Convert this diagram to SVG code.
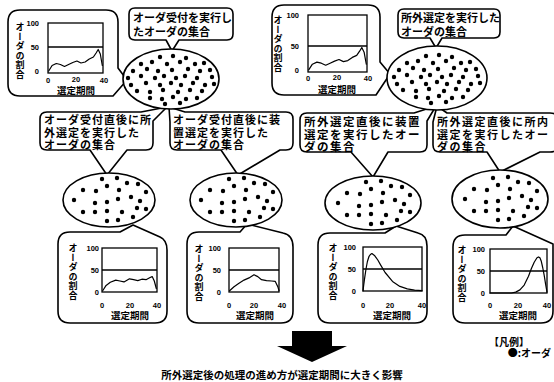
<svg xmlns="http://www.w3.org/2000/svg" xmlns:xlink="http://www.w3.org/1999/xlink" width="554" height="382" viewBox="0 0 554 382">
<style>
.bub{fill:#fff;stroke:#000;stroke-width:1.6;stroke-linejoin:round}
.ell{fill:#fff;stroke:#000;stroke-width:1.6}
.plot{fill:none;stroke:#000;stroke-width:1.3}
.curve{fill:none;stroke:#000;stroke-width:1.2;stroke-linejoin:round;stroke-linecap:round}
.t{font-family:"Noto Sans CJK JP","Noto Sans CJK SC",sans-serif;font-weight:700;fill:#000}
.num{font-family:"Liberation Sans",Arial,sans-serif;font-weight:700;font-size:7.5px;fill:#000}
.ne{text-anchor:end}
.nm{text-anchor:middle}
.yl{writing-mode:vertical-rl;font-size:9px;text-anchor:middle;letter-spacing:0.5px}
.xl{font-size:9.5px;text-anchor:middle}
.mb{font-size:11px;letter-spacing:1px}
.mb3{font-size:11.5px;letter-spacing:1.5px}
.mb4{font-size:11px;letter-spacing:1.5px}
</style>
<defs>
<g id="dotsA" fill="#000">
<circle cx="-11" cy="-22" r="2.2"/><circle cx="2" cy="-23" r="2.2"/><circle cx="15" cy="-21" r="2.2"/>
<circle cx="-30" cy="-15" r="2.2"/><circle cx="-19" cy="-17" r="2.2"/><circle cx="-4" cy="-15" r="2.2"/><circle cx="9" cy="-17" r="2.2"/><circle cx="24" cy="-15" r="2.2"/><circle cx="33" cy="-16" r="2.2"/>
<circle cx="-38" cy="-8" r="2.2"/><circle cx="-24" cy="-10" r="2.2"/><circle cx="-13" cy="-8" r="2.2"/><circle cx="1" cy="-9" r="2.2"/><circle cx="17" cy="-10" r="2.2"/><circle cx="29" cy="-8" r="2.2"/><circle cx="39" cy="-9" r="2.2"/>
<circle cx="-43" cy="-1" r="2.2"/><circle cx="-30" cy="-3" r="2.2"/><circle cx="-16" cy="-1" r="2.2"/><circle cx="-7" cy="-3" r="2.2"/><circle cx="5" cy="-1" r="2.2"/><circle cx="14" cy="-3" r="2.2"/><circle cx="26" cy="-1" r="2.2"/><circle cx="41" cy="-2" r="2.2"/>
<circle cx="-40" cy="6" r="2.2"/><circle cx="-25" cy="4" r="2.2"/><circle cx="-11" cy="6" r="2.2"/><circle cx="0" cy="4" r="2.2"/><circle cx="10" cy="6" r="2.2"/><circle cx="22" cy="4" r="2.2"/><circle cx="34" cy="6" r="2.2"/><circle cx="43" cy="5" r="2.2"/>
<circle cx="-34" cy="12" r="2.2"/><circle cx="-21" cy="13" r="2.2"/><circle cx="-8" cy="11" r="2.2"/><circle cx="7" cy="13" r="2.2"/><circle cx="19" cy="11" r="2.2"/><circle cx="31" cy="12" r="2.2"/>
<circle cx="-21" cy="19" r="2.2"/><circle cx="-9" cy="20" r="2.2"/><circle cx="2" cy="18" r="2.2"/><circle cx="15" cy="20" r="2.2"/><circle cx="26" cy="19" r="2.2"/>
<circle cx="-6" cy="25" r="2.2"/><circle cx="9" cy="24" r="2.2"/>
</g>
<g id="dotsB" fill="#000">
<circle cx="-7" cy="-21" r="2.2"/><circle cx="8" cy="-22" r="2.2"/><circle cx="18" cy="-17" r="2.2"/><circle cx="29" cy="-16" r="2.2"/>
<circle cx="-26" cy="-10" r="2.2"/><circle cx="-13" cy="-9" r="2.2"/><circle cx="-2" cy="-14" r="2.2"/><circle cx="10" cy="-10" r="2.2"/><circle cx="37" cy="-8" r="2.2"/>
<circle cx="-35" cy="0" r="2.2"/><circle cx="-14" cy="3" r="2.2"/><circle cx="-2" cy="2" r="2.2"/><circle cx="9" cy="-1" r="2.2"/><circle cx="22" cy="-3" r="2.2"/><circle cx="31" cy="1" r="2.2"/>
<circle cx="-26" cy="12" r="2.2"/><circle cx="-14" cy="12" r="2.2"/><circle cx="-2" cy="11" r="2.2"/><circle cx="13" cy="12" r="2.2"/><circle cx="28" cy="8" r="2.2"/><circle cx="37" cy="9" r="2.2"/>
<circle cx="-2" cy="21" r="2.2"/><circle cx="9" cy="20" r="2.2"/><circle cx="24" cy="17" r="2.2"/>
</g>
</defs>
<rect width="554" height="382" fill="#fff"/>

<g id="chart-top-left">
<path class="bub" d="M20,10 H106 Q118,10 118,22 V68 L127,80 L113,96 H20 Q8,96 8,84 V22 Q8,10 20,10 Z"/>
<rect class="plot" x="48" y="23" width="55" height="50"/>
<line class="plot" x1="48" y1="47" x2="103" y2="47"/>
<polyline class="curve" points="48.7,71 52.1,65.5 56.3,63.5 60.4,64.5 64.5,66.5 68.6,64.5 72.8,62.5 76.9,61 81,63 85.1,62 89.3,59 93.4,57 96.1,53 98.2,49.5 100.3,54 102.3,65.5"/>
<text class="num ne" x="39" y="25.5">100</text><text class="num ne" x="39" y="49.5">50</text><text class="num ne" x="39" y="73.5">0</text>
<text class="num nm" x="48" y="83">0</text><text class="num nm" x="76" y="82">20</text><text class="num nm" x="104" y="83">40</text>
<text class="t yl" x="20" y="51">オーダの割合</text>
<text class="t xl" x="76" y="94">選定期間</text>
</g>

<g id="label-top-left">
<path class="bub" d="M135,8 H227 Q233,8 233,14 V34 Q233,40 227,40 H179 L172,51 L166,40 H135 Q129,40 129,34 V14 Q129,8 135,8 Z"/>
<text class="t" font-size="11" x="133" y="21.5">オーダ受付を実行し</text>
<text class="t" font-size="11" x="133" y="36">たオーダの集合</text>
</g>

<g id="chart-top-right">
<path class="bub" d="M284,5 H368 Q380,5 380,17 V62 L390,74 L376,95 H284 Q272,95 272,83 V17 Q272,5 284,5 Z"/>
<rect class="plot" x="308" y="15" width="59" height="57"/>
<line class="plot" x1="308" y1="46" x2="367" y2="46"/>
<polyline class="curve" points="308.7,69.9 312.4,64.2 316.9,62.1 321.3,63.2 325.7,65.2 330.1,63.2 334.6,61.1 339,59.5 343.4,61.6 347.8,60.6 352.3,57.4 356.7,55.4 359.6,51.2 361.8,47.6 364.1,52.2 366.3,64.2"/>
<text class="num ne" x="299" y="17.5">100</text><text class="num ne" x="299" y="48.5">50</text><text class="num ne" x="299" y="72.5">0</text>
<text class="num nm" x="308" y="81">0</text><text class="num nm" x="337" y="80">20</text><text class="num nm" x="368" y="81">40</text>
<text class="t yl" x="278" y="44">オーダの割合</text>
<text class="t xl" x="337" y="93">選定期間</text>
</g>

<g id="label-top-right">
<path class="bub" d="M404,9 H494 Q500,9 500,15 V32 Q500,38 494,38 H442 L436,48 L430,38 H404 Q398,38 398,32 V15 Q398,9 404,9 Z"/>
<text class="t" font-size="11" x="401" y="22">所外選定を実行した</text>
<text class="t" font-size="11" x="401" y="35.5">オーダの集合</text>
</g>

<g id="label-b1">
<path class="bub" d="M47,112 H141 L167,107 L153,121 V143 Q153,150 146,150 H127 L107,175 L90,150 H47 Q40,150 40,143 V119 Q40,112 47,112 Z"/>
<text class="t mb" x="44" y="124">オーダ受付直後に所</text>
<text class="t mb" x="44" y="136.5">外選定を実行した</text>
<text class="t mb" x="44" y="149">オーダの集合</text>
</g>
<g id="label-b2">
<path class="bub" d="M185,112 H286 Q293,112 293,119 V143 Q293,150 286,150 H280 L238,175 L221,150 H177 Q170,150 170,143 V122 L169,107 Z"/>
<text class="t mb" x="173" y="124">オーダ受付直後に装</text>
<text class="t mb" x="173" y="136.5">置選定を実行した</text>
<text class="t mb" x="173" y="149">オーダの集合</text>
</g>
<g id="label-b3">
<path class="bub" d="M307,113 H414 L436,106 L427,121 V145 Q427,152 420,152 H388 L373,177 L351,152 H307 Q300,152 300,145 V120 Q300,113 307,113 Z"/>
<text class="t mb3" x="304" y="125.5">所外選定直後に装置</text>
<text class="t mb3" x="304" y="138.5">選定を実行したオー</text>
<text class="t mb3" x="304" y="151">ダの集合</text>
</g>
<g id="label-b4">
<path class="bub" d="M433,122 L437,106 L447,113 H550 Q558,113 558,120 V145 Q558,152 550,152 H540 L500,172 L487,152 H440 Q433,152 433,145 Z"/>
<text class="t mb4" x="437" y="125.5">所外選定直後に所内</text>
<text class="t mb4" x="437" y="138.5">選定を実行したオー</text>
<text class="t mb4" x="437" y="151">ダの集合</text>
</g>

<g id="chart-c1">
<path class="bub" d="M70,232 H120 L133,225 L160,237 Q167,240 167,250 V311 Q167,323 155,323 H70 Q58,323 58,311 V244 Q58,232 70,232 Z"/>
<rect class="plot" x="102" y="248" width="55" height="44"/>
<line class="plot" x1="102" y1="270" x2="157" y2="270"/>
<polyline class="curve" points="102.7,290.7 106.1,285.4 110.3,282.3 115.8,280.1 119.9,281 124,281.9 129.5,278.8 133.6,279.7 137.8,280.6 141.9,279.2 146,279.7 150.1,277.5 152.2,276.6 154.3,281 156.3,288.5"/>
<text class="num ne" x="99" y="250.5">100</text><text class="num ne" x="99" y="272.5">50</text><text class="num ne" x="99" y="294.5">0</text>
<text class="num nm" x="102" y="308">0</text><text class="num nm" x="130" y="307.5">20</text><text class="num nm" x="157" y="308">40</text>
<text class="t yl" x="73" y="272">オーダの割合</text>
<text class="t xl" x="130" y="319">選定期間</text>
</g>
<g id="chart-c2">
<path class="bub" d="M199,232 H240 L247,224 L283,233 Q293,235 293,247 V311 Q293,323 281,323 H199 Q187,323 187,311 V244 Q187,232 199,232 Z"/>
<rect class="plot" x="229" y="248" width="50" height="44"/>
<line class="plot" x1="229" y1="270" x2="279" y2="270"/>
<polyline class="curve" points="229.6,290.7 234,286.7 239,283.2 244,280.1 249,277.9 254,274.8 257.8,276.6 261.5,279.7 266.5,280.6 271.5,281 275.3,281.4 277.8,286.7 279,290.7"/>
<text class="num ne" x="221" y="250.5">100</text><text class="num ne" x="221" y="272.5">50</text><text class="num ne" x="221" y="294.5">0</text>
<text class="num nm" x="229" y="308">0</text><text class="num nm" x="254" y="307.5">20</text><text class="num nm" x="282" y="308">40</text>
<text class="t yl" x="199" y="273">オーダの割合</text>
<text class="t xl" x="255" y="319">選定期間</text>
</g>
<g id="chart-c3">
<path class="bub" d="M330,233 H385 L396,226 L418,233 Q427,235 427,246 V311 Q427,323 415,323 H330 Q318,323 318,311 V245 Q318,233 330,233 Z"/>
<rect class="plot" x="363" y="247" width="59" height="44"/>
<line class="plot" x1="363" y1="269" x2="422" y2="269"/>
<polyline class="curve" points="363,291 363.7,285.3 364.5,279.1 366,269 367.4,261.5 368.9,256.7 370.4,254.5 371.9,253.6 374.8,255.8 377.8,260 380.7,265.1 385.1,272.5 392.5,281.4 399.9,286.4 407.3,288.9 414.6,290.1 422,290.6"/>
<text class="num ne" x="356" y="249.5">100</text><text class="num ne" x="356" y="271.5">50</text><text class="num ne" x="356" y="293.5">0</text>
<text class="num nm" x="363" y="308">0</text><text class="num nm" x="390" y="307.5">20</text><text class="num nm" x="422" y="308">40</text>
<text class="t yl" x="333" y="272">オーダの割合</text>
<text class="t xl" x="392" y="319">選定期間</text>
</g>
<g id="chart-c4">
<path class="bub" d="M465,235 H506 L513,226 L553,244 V311 Q553,323 541,323 H465 Q453,323 453,311 V247 Q453,235 465,235 Z"/>
<rect class="plot" x="490" y="249" width="57" height="44"/>
<line class="plot" x1="490" y1="271" x2="547" y2="271"/>
<polyline class="curve" points="490,293 511.4,293 515.7,292.1 519.9,289.9 524.2,285.1 528.5,276.3 531.3,268.8 534.2,262.2 537,257.8 538.5,256.9 539.9,257.8 541.3,261.3 542.7,267.5 544.2,275.4 545.6,284.2 547,292.1"/>
<text class="num ne" x="485" y="251.5">100</text><text class="num ne" x="485" y="273.5">50</text><text class="num ne" x="485" y="295.5">0</text>
<text class="num nm" x="490" y="308">0</text><text class="num nm" x="518" y="307.5">20</text><text class="num nm" x="547" y="308">40</text>
<text class="t yl" x="462" y="274">オーダの割合</text>
<text class="t xl" x="518" y="319">選定期間</text>
</g>

<g id="set-top-left"><ellipse class="ell" cx="171" cy="79" rx="48" ry="30"/><use xlink:href="#dotsA" href="#dotsA" transform="translate(171,79)"/></g>
<g id="set-top-right"><ellipse class="ell" cx="437" cy="78" rx="50" ry="32"/><use xlink:href="#dotsA" href="#dotsA" transform="translate(437,78)"/></g>
<g id="set-1"><ellipse class="ell" cx="109" cy="200" rx="46" ry="27"/><use xlink:href="#dotsB" href="#dotsB" transform="translate(109,200)"/></g>
<g id="set-2"><ellipse class="ell" cx="236" cy="200" rx="46" ry="27"/><use xlink:href="#dotsB" href="#dotsB" transform="translate(236,200)"/></g>
<g id="set-3"><ellipse class="ell" cx="373" cy="203" rx="48" ry="27"/><use xlink:href="#dotsB" href="#dotsB" transform="translate(373,203)"/></g>
<g id="set-4"><ellipse class="ell" cx="500" cy="199" rx="48" ry="29"/><use xlink:href="#dotsB" href="#dotsB" transform="translate(500,199)"/></g>

<g id="connectors">
<polygon fill="#000" points="292,331 332,331 332,346 347,346 312,362 277,346 292,346"/>
</g>

<g id="conclusion">
<text class="t" font-size="10.5" x="282" y="379" text-anchor="middle">所外選定後の処理の進め方が選定期間に大きく影響</text>
</g>
<g id="legend">
<text class="t" font-size="10" x="489" y="346">【凡例】</text>
<text class="t" font-size="10" x="551" y="357" text-anchor="end">●:オーダ</text>
</g>
</svg>
